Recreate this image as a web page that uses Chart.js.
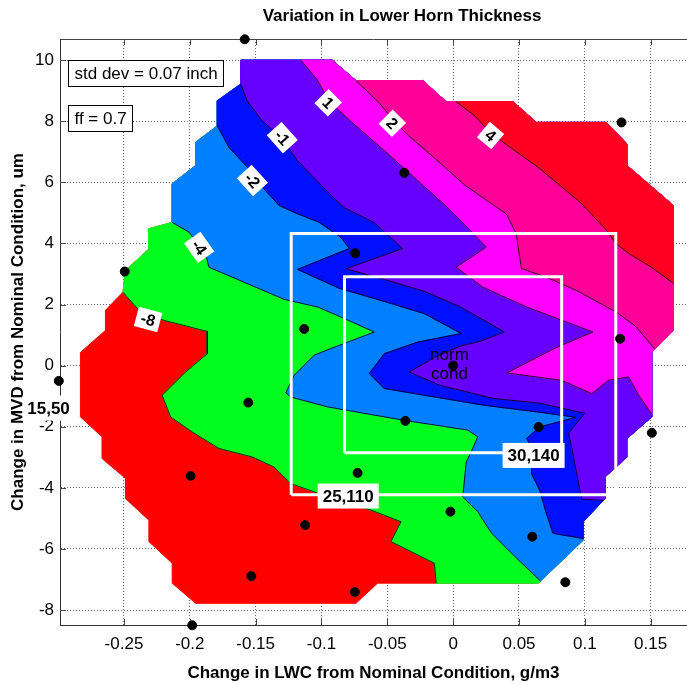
<!DOCTYPE html>
<html>
<head>
<meta charset="utf-8">
<script src="https://cdn.jsdelivr.net/npm/chart.js@4.4.1/dist/chart.umd.min.js"></script>
<style>
html,body{margin:0;padding:0;background:#ffffff;}
#wrap{width:687px;height:684px;}
</style>
</head>
<body>
<div id="wrap"><canvas id="c" width="687" height="684"></canvas></div>
<script>
// ---------- axis ticks ----------
const xTickValues = [-0.25, -0.2, -0.15, -0.1, -0.05, 0, 0.05, 0.1, 0.15];
const yTickValues = [-8, -6, -4, -2, 0, 2, 4, 6, 8, 10];
const xRange = [-0.2986, 0.1776];
const yRange = [-8.49, 10.69];

// ---------- contour levels and band colours ----------
const levels = [-8, -4, -2, -1, 1, 2, 4];
const bandColors = ['#FF0000', '#00FF1E', '#0080FF', '#0010FF', '#6600FF', '#FF00FF', '#FF0099', '#FF0022'];

// ---------- outline of the computed domain (LWC change, MVD change) ----------
const domain = [
  [-0.1613, 10.0], [-0.0919, 10.0], [-0.0738, 9.33], [-0.0231, 9.33], [-0.0053, 8.64],
  [0.0454, 8.64], [0.0632, 7.96], [0.1164, 7.96], [0.1321, 7.25], [0.1321, 6.55],
  [0.1673, 5.24], [0.1673, 1.15], [0.1509, 0.44], [0.1509, -1.68], [0.1319, -2.39],
  [0.1319, -3.00], [0.1154, -3.64], [0.1154, -4.35], [0.0989, -5.11], [0.0989, -5.71],
  [0.0647, -7.12], [-0.0574, -7.12], [-0.0738, -7.78], [-0.1956, -7.78], [-0.2134, -7.12],
  [-0.2134, -6.47], [-0.2311, -5.76], [-0.2311, -5.06], [-0.2489, -4.35], [-0.2489, -3.69],
  [-0.2667, -3.04], [-0.2667, -2.33], [-0.2831, -1.68], [-0.2831, 0.43], [-0.2641, 1.15],
  [-0.2641, 1.81], [-0.2508, 2.40], [-0.2489, 3.11], [-0.2311, 3.82], [-0.2311, 4.48],
  [-0.2134, 4.69], [-0.2134, 5.95], [-0.1956, 6.55], [-0.1956, 7.31], [-0.1791, 7.85],
  [-0.1791, 8.67], [-0.1613, 9.22]
];

// ---------- contour lines (each runs from the upper/left edge to the lower/right edge) ----------
const contourM8 = [
  [-0.2508, 2.40], [-0.2386, 1.81], [-0.2196, 1.48], [-0.1868, 1.12], [-0.1868, 0.39],
  [-0.2032, -0.21], [-0.2210, -0.97], [-0.2146, -1.68], [-0.1982, -2.17], [-0.1779, -2.71],
  [-0.1525, -2.99], [-0.1360, -3.32], [-0.1233, -3.86], [-0.1030, -4.17], [-0.0624, -4.73],
  [-0.0396, -5.11], [-0.0472, -5.76], [-0.0142, -6.47], [-0.0129, -7.12]
];
const contourM4 = [
  [-0.2134, 4.69], [-0.2007, 4.37], [-0.1880, 3.67], [-0.1855, 3.22], [-0.1680, 2.90],
  [-0.1284, 2.17], [-0.1030, 1.92], [-0.0852, 1.59], [-0.0599, 1.10], [-0.0928, 0.56],
  [-0.1056, 0.34], [-0.1208, -0.32], [-0.1271, -0.89], [-0.1233, -1.03], [-0.0954, -1.35],
  [-0.0599, -1.62], [-0.0371, -1.79], [0.0111, -2.11], [0.0187, -2.33], [0.0149, -2.71],
  [0.0099, -3.16], [0.0073, -4.30], [0.0187, -4.78], [0.0291, -5.48], [0.0469, -6.25],
  [0.0664, -7.05]
];
const contourM2 = [
  [-0.1791, 7.85], [-0.1702, 7.14], [-0.1575, 6.55], [-0.1449, 5.84], [-0.1322, 5.24],
  [-0.1183, 4.97], [-0.1018, 4.69], [-0.0852, 4.20], [-0.0789, 3.83], [-0.1183, 3.15],
  [-0.0865, 2.53], [-0.0523, 2.10], [-0.0218, 1.70], [0.0061, 1.05], [-0.0269, 0.77],
  [-0.0523, 0.39], [-0.0637, -0.26], [-0.0523, -0.75], [-0.0218, -0.97], [0.0238, -1.30],
  [0.0647, -1.52], [0.0930, -1.69], [0.0657, -2.01], [0.0558, -2.38], [0.0611, -2.83],
  [0.0594, -3.52], [0.0657, -4.08], [0.0708, -4.84], [0.0758, -5.49], [0.0989, -5.66]
];
const contourM1 = [
  [-0.1613, 9.22], [-0.1565, 8.67], [-0.1451, 8.02], [-0.1299, 7.43], [-0.1183, 6.71],
  [-0.1056, 6.15], [-0.0941, 5.63], [-0.0827, 5.17], [-0.0599, 4.68], [-0.0384, 3.83],
  [-0.0814, 3.17], [-0.0523, 2.82], [-0.0218, 2.43], [0.0048, 1.94], [0.0390, 1.10],
  [0.0200, 0.79], [0.0048, 0.63], [-0.0142, 0.27], [-0.0333, -0.21], [-0.0104, -0.64],
  [0.0086, -0.84], [0.0299, -1.07], [0.0657, -1.23], [0.1000, -1.56], [0.0877, -2.21],
  [0.0900, -2.67], [0.0938, -3.52], [0.0976, -4.37], [0.1140, -4.41]
];
const contourP1 = [
  [-0.1157, 10.0], [-0.1033, 9.36], [-0.0941, 8.64], [-0.0713, 7.75], [-0.0523, 7.04],
  [-0.0371, 6.45], [-0.0218, 5.86], [-0.0066, 5.27], [0.0086, 4.62], [0.0251, 3.88],
  [0.0023, 3.22], [0.0225, 2.57], [0.0558, 1.92], [0.1062, 1.10], [0.0771, 0.57],
  [0.0409, -0.24], [0.0824, -0.48], [0.1053, -0.92], [0.1180, -0.48], [0.1332, -0.37],
  [0.1418, -1.03], [0.1509, -1.59]
];
const contourP2 = [
  [-0.0738, 9.33], [-0.0561, 8.60], [-0.0462, 8.08], [-0.0348, 7.56], [-0.0119, 6.71],
  [0.0086, 5.92], [0.0200, 5.57], [0.0403, 4.97], [0.0479, 4.32], [0.0518, 3.18],
  [0.0710, 2.89], [0.0936, 2.46], [0.1243, 1.74], [0.1387, 1.28], [0.1532, 0.54]
];
const contourP4 = [
  [0.0023, 8.64], [0.0162, 8.18], [0.0291, 7.59], [0.0406, 7.23], [0.0649, 6.48],
  [0.0976, 5.30], [0.1167, 4.42], [0.1235, 4.00], [0.1334, 3.67], [0.1509, 3.21],
  [0.1673, 2.69]
];
const contours = [contourM8, contourM4, contourM2, contourM1, contourP1, contourP2, contourP4];

// ---------- test points ----------
const pointsX = [-0.1583, 0.1279, -0.0371, -0.2494, -0.0744, -0.1132, -0.2995, -0.1556, 0.0, -0.0363, 0.0649,
                 0.1268, 0.1509, -0.1994, -0.0726, -0.0021, -0.1124, 0.0601, -0.1533, -0.0746, 0.0852, -0.1982];
const pointsY = [10.68, 7.96, 6.31, 3.08, 3.68, 1.20, -0.50, -1.21, 0.0, -1.81, -2.01,
                 0.88, -2.20, -3.61, -3.51, -4.78, -5.22, -5.60, -6.89, -7.41, -7.09, -8.50];

// ---------- white condition boxes ----------
const outerBoxX = [-0.123, 0.1235];
const outerBoxY = [-4.23, 4.32];
const innerBoxX = [-0.0825, 0.0824];
const innerBoxY = [-2.85, 2.91];

// ---------- text annotations ----------
const contourLabelText = ['-8', '-4', '-2', '-1', '1', '2', '4'];
const contourLabelX = [-0.2317, -0.1929, -0.1525, -0.1298, -0.0949, -0.0462, 0.0284];
const contourLabelY = [1.51, 3.87, 6.06, 7.46, 8.60, 7.93, 7.53];
const contourLabelAngle = [15, 55, 48, 48, 45, 45, 40];

const caseLabelText = ['25,110', '30,140', '15,50'];
const caseLabelX = [-0.0797, 0.0611, -0.3073];
const caseLabelY = [-4.27, -2.94, -1.39];

const noteText = ['std dev = 0.07 inch', 'ff = 0.7'];
const noteX = [-0.2924, -0.2924];
const noteY = [10.0, 8.53];

const FONT = "'Liberation Sans', Arial, Helvetica, sans-serif";

// ---------- helpers building library datasets ----------
function toPts(arr) { return arr.map(p => ({ x: p[0], y: p[1] })); }
function distToSeg(p, a, b) {
  const k = 40;
  const px = p[0] * k, py = p[1], ax = a[0] * k, ay = a[1], bx = b[0] * k, by = b[1];
  const vx = bx - ax, vy = by - ay;
  const L = vx * vx + vy * vy;
  let t = L ? ((px - ax) * vx + (py - ay) * vy) / L : 0;
  t = Math.max(0, Math.min(1, t));
  return Math.hypot(ax + t * vx - px, ay + t * vy - py);
}
function segIndex(p) {
  let best = 0, bd = Infinity;
  for (let i = 0; i < domain.length; i++) {
    const d = distToSeg(p, domain[i], domain[(i + 1) % domain.length]);
    if (d < bd - 1e-9) { bd = d; best = i; }
  }
  return best;
}
// region of the domain lying above (to the upper right of) a contour
function upperRegion(c) {
  const N = domain.length;
  const s = segIndex(c[0]), e = segIndex(c[c.length - 1]);
  const pts = toPts(c);
  let i = e;
  pts.push({ x: domain[i][0], y: domain[i][1] });
  const stop = (s + 1) % N;
  let guard = 0;
  while (i !== stop && guard++ < N) {
    i = (i - 1 + N) % N;
    pts.push({ x: domain[i][0], y: domain[i][1] });
  }
  pts.push({ x: c[0][0], y: c[0][1] });
  return pts;
}
function boxPts(bx, by) {
  return [{ x: bx[0], y: by[0] }, { x: bx[1], y: by[0] }, { x: bx[1], y: by[1] }, { x: bx[0], y: by[1] }, { x: bx[0], y: by[0] }];
}

const datasets = [];
const domainClosed = toPts(domain.concat([domain[0]]));
datasets.push({ type: 'scatter', data: domainClosed, showLine: true, fill: 'shape',
  backgroundColor: bandColors[0], borderColor: bandColors[0], borderWidth: 1, pointRadius: 0, order: 100 });
contours.forEach((c, i) => {
  datasets.push({ type: 'scatter', data: upperRegion(c), showLine: true, fill: 'shape',
    backgroundColor: bandColors[i + 1], borderColor: bandColors[i + 1], borderWidth: 1, pointRadius: 0, order: 90 - i });
});
contours.forEach((c) => {
  datasets.push({ type: 'scatter', data: toPts(c), showLine: true, fill: false,
    borderColor: '#000000', borderWidth: 0.8, pointRadius: 0, order: 50 });
});
datasets.push({ type: 'scatter', data: boxPts(outerBoxX, outerBoxY), showLine: true, fill: false,
  borderColor: '#FFFFFF', borderWidth: 3, pointRadius: 0, order: 30, clip: false });
datasets.push({ type: 'scatter', data: boxPts(innerBoxX, innerBoxY), showLine: true, fill: false,
  borderColor: '#FFFFFF', borderWidth: 3, pointRadius: 0, order: 30, clip: false });
datasets.push({ type: 'scatter', data: pointsX.map((x, i) => ({ x: x, y: pointsY[i] })), showLine: false,
  backgroundColor: '#000000', borderColor: '#000000', borderWidth: 1, pointRadius: 4.5, order: 10, clip: false });

// ---------- plugins ----------
const framePlugin = {
  id: 'frame',
  beforeDatasetsDraw(chart) {
    const { ctx, chartArea: a, scales } = chart;
    ctx.save();
    ctx.strokeStyle = '#444';
    ctx.lineWidth = 1;
    ctx.beginPath();
    ctx.moveTo(a.left, a.top + 0.5);
    ctx.lineTo(a.right, a.top + 0.5);
    xTickValues.forEach(v => {
      const x = Math.round(scales.x.getPixelForValue(v)) + 0.5;
      ctx.moveTo(x, a.top); ctx.lineTo(x, a.top + 6);
      ctx.moveTo(x, a.bottom); ctx.lineTo(x, a.bottom - 6);
    });
    yTickValues.forEach(v => {
      const y = Math.round(scales.y.getPixelForValue(v)) + 0.5;
      ctx.moveTo(a.left, y); ctx.lineTo(a.left + 6, y);
    });
    ctx.stroke();
    ctx.restore();
  }
};

const annotationPlugin = {
  id: 'notes',
  afterDatasetsDraw(chart) {
    const { ctx, scales } = chart;
    const X = v => scales.x.getPixelForValue(v);
    const Y = v => scales.y.getPixelForValue(v);
    ctx.save();
    // contour labels
    ctx.font = 'bold 16px ' + FONT;
    ctx.textAlign = 'center';
    ctx.textBaseline = 'middle';
    contourLabelText.forEach((t, i) => {
      ctx.save();
      ctx.translate(X(contourLabelX[i]), Y(contourLabelY[i]));
      ctx.rotate(contourLabelAngle[i] * Math.PI / 180);
      const w = ctx.measureText(t).width + 10, h = 20;
      ctx.fillStyle = '#FFFFFF';
      ctx.fillRect(-w / 2, -h / 2, w, h);
      ctx.fillStyle = '#000000';
      ctx.fillText(t, 0, 1);
      ctx.restore();
    });
    // case labels
    ctx.font = 'bold 17px ' + FONT;
    caseLabelText.forEach((t, i) => {
      const cx = X(caseLabelX[i]), cy = Y(caseLabelY[i]);
      const w = ctx.measureText(t).width + 10, h = 25;
      ctx.fillStyle = '#FFFFFF';
      ctx.fillRect(cx - w / 2, cy - h / 2, w, h);
      ctx.fillStyle = '#000000';
      ctx.fillText(t, cx, cy + 1);
    });
    // norm cond
    ctx.font = '17px ' + FONT;
    ctx.fillStyle = '#000000';
    ctx.fillText('norm', X(-0.0028), Y(0.34));
    ctx.fillText('cond', X(-0.0028), Y(-0.28));
    // note boxes
    ctx.textAlign = 'left';
    noteText.forEach((t, i) => {
      const lx = Math.round(X(noteX[i])) + 0.5, ty = Math.round(Y(noteY[i])) + 0.5;
      const w = Math.round(ctx.measureText(t).width + 12), h = 26;
      ctx.fillStyle = '#FFFFFF';
      ctx.fillRect(lx, ty, w, h);
      ctx.strokeStyle = '#000000';
      ctx.lineWidth = 1;
      ctx.strokeRect(lx, ty, w, h);
      ctx.fillStyle = '#000000';
      ctx.fillText(t, lx + 6, ty + h / 2 + 1);
    });
    ctx.restore();
  },
  afterDraw(chart) {
    const { ctx } = chart;
    ctx.save();
    ctx.font = 'bold 17px ' + FONT;
    ctx.fillStyle = '#000000';
    ctx.textAlign = 'center';
    ctx.textBaseline = 'middle';
    ctx.fillText('Variation in Lower Horn Thickness', 402, 16);
    ctx.restore();
  }
};

new Chart(document.getElementById('c'), {
  type: 'scatter',
  data: { datasets: datasets },
  options: {
    responsive: false,
    animation: false,
    devicePixelRatio: 1,
    events: [],
    layout: { autoPadding: false, padding: { top: 39, left: 0, right: 0, bottom: 0 } },
    elements: { line: { tension: 0, borderJoinStyle: 'miter' } },
    plugins: { legend: { display: false }, tooltip: { enabled: false }, title: { display: false } },
    scales: {
      x: {
        type: 'linear', position: 'bottom', min: xRange[0], max: xRange[1],
        afterBuildTicks: s => { s.ticks = xTickValues.map(v => ({ value: v })); },
        afterFit: s => { s.height = 59; },
        ticks: { callback: v => String(v), font: { family: FONT, size: 17 }, color: '#000', padding: 9, maxRotation: 0, autoSkip: false },
        grid: { color: 'rgba(0,0,0,0.6)', lineWidth: 1, drawTicks: false },
        border: { display: true, color: '#333', width: 1, dash: [1, 2] },
        title: { display: true, text: 'Change in LWC from Nominal Condition, g/m3', font: { family: FONT, size: 17, weight: 'bold' }, color: '#000', padding: { top: 1, bottom: 0 } }
      },
      y: {
        type: 'linear', position: 'left', min: yRange[0], max: yRange[1],
        afterBuildTicks: s => { s.ticks = yTickValues.map(v => ({ value: v })); },
        afterFit: s => { s.width = 60; },
        ticks: { callback: v => String(v), font: { family: FONT, size: 17 }, color: '#000', padding: 6, autoSkip: false },
        grid: { color: 'rgba(0,0,0,0.6)', lineWidth: 1, drawTicks: false },
        border: { display: true, color: '#333', width: 1, dash: [1, 2] },
        title: { display: true, text: 'Change in MVD from Nominal Condition, um', font: { family: FONT, size: 17, weight: 'bold' }, color: '#000', padding: { top: 8, bottom: 0 } }
      }
    }
  },
  plugins: [framePlugin, annotationPlugin]
});
</script>
</body>
</html>
